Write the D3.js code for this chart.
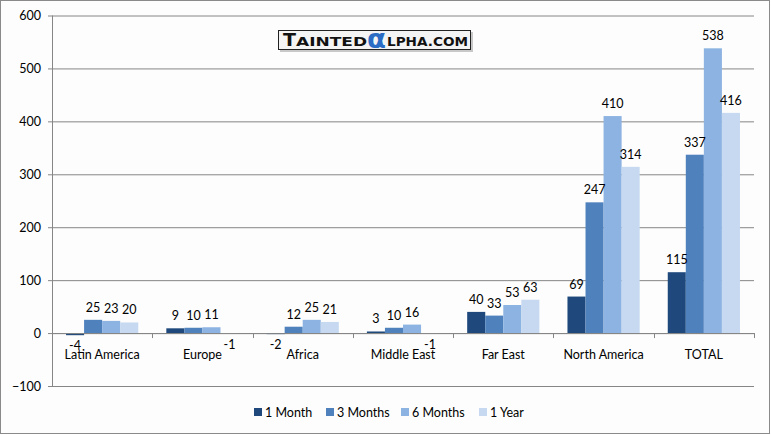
<!DOCTYPE html>
<html>
<head>
<meta charset="utf-8">
<script src="https://cdn.jsdelivr.net/npm/d3@7"></script>
<style>
  body { margin: 0; background: #fff; }
  text { font-family: Lato, "Open Sans", sans-serif; font-size: 12.5px; fill: #000; }
</style>
</head>
<body>
<script>
var categories = ["Latin America", "Europe", "Africa", "Middle East", "Far East", "North America", "TOTAL"];
var series = ["1 Month", "3 Months", "6 Months", "1 Year"];
var oneMonth = [-4, 9, -2, 3, 40, 69, 115];
var threeMonths = [25, 10, 12, 10, 33, 247, 337];
var sixMonths = [23, 11, 25, 16, 53, 410, 538];
var oneYear = [20, -1, 21, -1, 63, 314, 416];
var yTicks = [-100, 0, 100, 200, 300, 400, 500, 600];
var colors = ["#1F497D", "#4F81BD", "#8DB3E2", "#C6D9F1"];

var values = [oneMonth, threeMonths, sixMonths, oneYear];

var width = 771, height = 435;
var svg = d3.select("body").append("svg").attr("width", width).attr("height", height);

svg.append("rect").attr("x", 0.5).attr("y", 0.5).attr("width", 769).attr("height", 433)
  .attr("fill", "#fcfdfc").attr("stroke", "#8a8a8a");

var y = d3.scaleLinear().domain([-100, 600]).range([386, 15.5]);
var x = d3.scaleBand().domain(categories).range([52, 754]);
var gap = x.bandwidth() * 0.28;
var x1 = d3.scaleBand().domain(series).range([gap / 2, x.bandwidth() - gap / 2]);

// gridlines + y axis
var yAxis = d3.axisLeft(y).tickValues(yTicks).tickSize(4).tickPadding(7).tickFormat(d3.format("d"));
var ga = svg.append("g").attr("transform", "translate(52,0)").call(yAxis);
ga.select(".domain").attr("stroke", "#868686").attr("d", "M0.5," + y(600) + "V" + y(-100));
ga.selectAll(".tick line").attr("stroke", "#868686").attr("x1", -4).attr("x2", 702);
ga.selectAll(".tick text").style("font-size", "12.5px").attr("font-family", null);

// bars
var groups = svg.selectAll("g.cat").data(categories).enter().append("g")
  .attr("class", "cat")
  .attr("transform", function(d) { return "translate(" + x(d) + ",0)"; });

series.forEach(function(s, si) {
  groups.append("rect")
    .attr("x", x1(s))
    .attr("width", x1.bandwidth())
    .attr("y", function(d, i) { return y(Math.max(0, values[si][i])); })
    .attr("height", function(d, i) { return Math.abs(y(values[si][i]) - y(0)); })
    .attr("fill", colors[si]);
});

series.forEach(function(s, si) {
  groups.append("text")
    .attr("x", x1(s) + x1.bandwidth() / 2)
    .attr("y", function(d, i) {
      var v = values[si][i];
      return v >= 0 ? y(v) - 8 : y(v) + 15;
    })
    .attr("text-anchor", "middle")
    .text(function(d, i) { return values[si][i]; });
});

// x axis at zero
var xAxis = svg.append("g").attr("transform", "translate(0," + y(0) + ")");
xAxis.append("line").attr("x1", 52).attr("x2", 754).attr("y1", 0.5).attr("y2", 0.5).attr("stroke", "#868686");
var bounds = categories.map(function(c) { return x(c); }).concat([754]);
xAxis.selectAll("line.tk").data(bounds).enter().append("line")
  .attr("class", "tk")
  .attr("x1", function(d) { return Math.round(d) + 0.5; })
  .attr("x2", function(d) { return Math.round(d) + 0.5; })
  .attr("y1", 0).attr("y2", 5).attr("stroke", "#868686");
xAxis.selectAll("text").data(categories).enter().append("text")
  .attr("x", function(d) { return x(d) + x.bandwidth() / 2; })
  .attr("y", 26)
  .attr("text-anchor", "middle")
  .text(function(d) { return d; });

// legend
var legendX = [254, 326, 401, 479];
var legend = svg.selectAll("g.leg").data(series).enter().append("g")
  .attr("class", "leg")
  .attr("transform", function(d, i) { return "translate(" + legendX[i] + ",408)"; });
legend.append("rect").attr("width", 8).attr("height", 8).attr("fill", function(d, i) { return colors[i]; });
legend.append("text").attr("x", 11).attr("y", 8.5).text(function(d) { return d; });

// logo
var logo = svg.append("g").attr("transform", "translate(278,30)");
logo.append("rect").attr("x", 2).attr("y", 2).attr("width", 193).attr("height", 20).attr("fill", "#c8c8c8");
logo.append("rect").attr("x", 0.5).attr("y", 0.5).attr("width", 192).attr("height", 19)
  .attr("fill", "#f4f4f4").attr("stroke", "#222").attr("stroke-width", 1);
function logoText(str, x0, len, size, col) {
  logo.append("text").attr("x", x0).attr("y", 16)
    .attr("textLength", len).attr("lengthAdjust", "spacingAndGlyphs")
    .style("font-family", "'DejaVu Sans', Verdana, sans-serif").style("font-weight", "bold")
    .style("font-size", size + "px").style("fill", col).text(str);
}
logoText("T", 5, 13, 17, "#111");
logoText("AINTED", 18, 71, 12, "#111");
logoText("LPHA.COM", 109, 81, 12, "#111");
logo.append("text").attr("x", 89).attr("y", 18)
  .attr("textLength", 19).attr("lengthAdjust", "spacingAndGlyphs")
  .style("font-family", "'DejaVu Sans', sans-serif").style("font-weight", "bold")
  .style("font-size", "27px").style("fill", "#2b6cc4").text("α");
</script>
</body>
</html>
